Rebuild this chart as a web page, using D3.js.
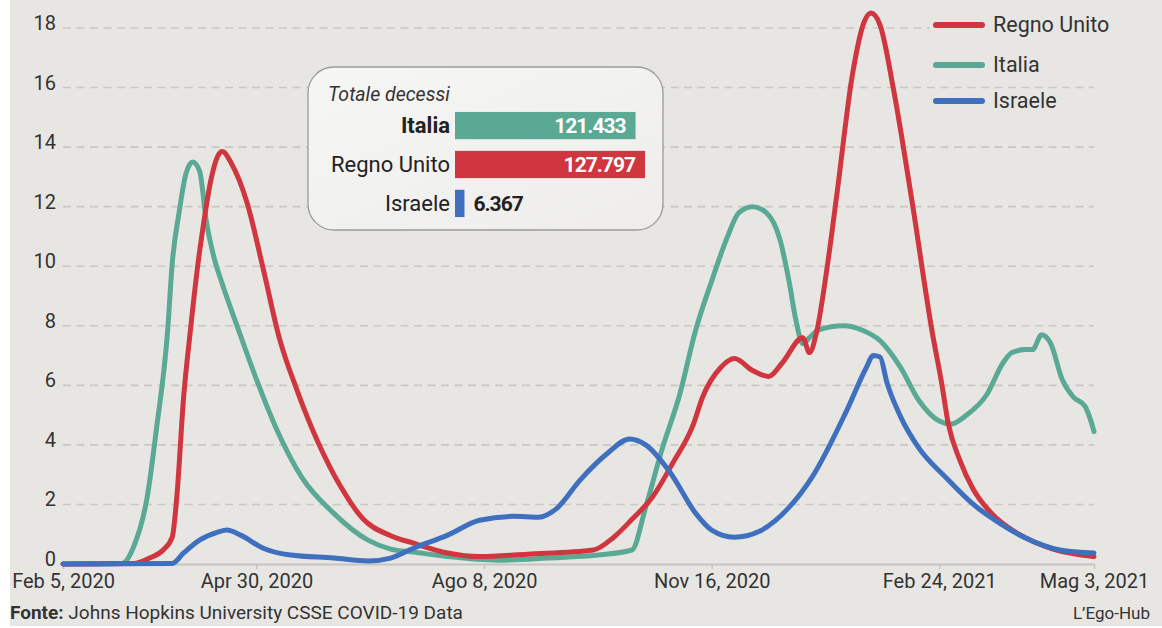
<!DOCTYPE html>
<html><head><meta charset="utf-8">
<script src="https://cdn.jsdelivr.net/npm/d3@7"></script>
<style>
html,body{margin:0;padding:0;background:#fff;}
svg{display:block;font-family:Roboto,"Noto Sans",sans-serif;}
</style></head><body>
<svg id="chart" width="1162" height="628"></svg>
<script>
// ---- DATA ----
const seriesNames = ["Regno Unito", "Italia", "Israele"];
const seriesColors = ["#d0363f", "#5aa995", "#3f6fbf"];

const regnoUnito = [
  ["2020-02-05",0],["2020-03-07",0.02],["2020-03-14",0.2],["2020-03-20",0.47],["2020-03-24",0.9],
  ["2020-03-26",2.25],["2020-03-29",5.6],["2020-04-01",7.86],["2020-04-04",9.9],["2020-04-07",11.55],
  ["2020-04-10",12.9],["2020-04-13",13.7],["2020-04-15",13.85],["2020-04-19",13.45],["2020-04-26",12.1],
  ["2020-05-03",9.9],["2020-05-10",7.6],["2020-05-18",5.8],["2020-05-27",4.1],["2020-06-06",2.6],
  ["2020-06-16",1.5],["2020-06-28",0.95],["2020-07-08",0.7],["2020-07-23",0.37],["2020-08-06",0.25],
  ["2020-08-27",0.33],["2020-09-25",0.47],["2020-10-04",0.9],["2020-10-12",1.5],["2020-10-21",2.25],
  ["2020-10-30",3.4],["2020-11-08",4.7],["2020-11-12",5.6],["2020-11-20",6.6],["2020-11-26",6.9],
  ["2020-12-04",6.5],["2020-12-11",6.3],["2020-12-17",6.75],["2020-12-26",7.6],["2020-12-29",7.1],
  ["2021-01-01",7.75],["2021-01-06",10.1],["2021-01-10",12.4],["2021-01-17",16.5],["2021-01-22",18.2],
  ["2021-01-25",18.5],["2021-01-29",18.1],["2021-02-04",15.9],["2021-02-12",12.2],["2021-02-21",7.75],
  ["2021-02-25",6.1],["2021-02-28",4.7],["2021-03-05",3.5],["2021-03-11",2.5],["2021-03-19",1.7],
  ["2021-03-31",1.0],["2021-04-15",0.5],["2021-05-03",0.25]
];

const italia = [
  ["2020-02-05",0],["2020-03-02",0.02],["2020-03-07",0.57],["2020-03-13",2.25],["2020-03-17",4.5],
  ["2020-03-22",7.86],["2020-03-24",10.1],["2020-03-27",11.8],["2020-03-30",13.1],["2020-04-02",13.5],
  ["2020-04-05",13.2],["2020-04-08",11.5],["2020-04-11",10.4],["2020-04-15",9.4],["2020-04-21",8.1],
  ["2020-04-30",6.2],["2020-05-09",4.5],["2020-05-20",2.9],["2020-06-03",1.7],["2020-06-18",0.8],
  ["2020-06-28",0.5],["2020-07-08",0.4],["2020-07-23",0.25],["2020-08-14",0.13],["2020-09-05",0.2],
  ["2020-09-27",0.3],["2020-10-12",0.47],["2020-10-18",1.9],["2020-10-25",3.8],["2020-11-02",5.7],
  ["2020-11-09",7.86],["2020-11-16",9.5],["2020-11-23",11.0],["2020-11-28",11.8],["2020-12-04",12.0],
  ["2020-12-10",11.8],["2020-12-16",10.9],["2020-12-20",9.5],["2020-12-23",8.2],["2020-12-26",7.4],
  ["2020-12-29",7.6],["2021-01-02",7.86],["2021-01-13",8.0],["2021-01-21",7.86],["2021-01-29",7.5],
  ["2021-02-07",6.6],["2021-02-15",5.5],["2021-02-24",4.8],["2021-03-01",4.7],["2021-03-08",5.0],
  ["2021-03-17",5.7],["2021-03-24",6.75],["2021-03-28",7.1],["2021-04-03",7.2],["2021-04-06",7.2],
  ["2021-04-10",7.7],["2021-04-14",7.4],["2021-04-19",6.2],["2021-04-24",5.6],["2021-04-29",5.3],
  ["2021-05-01",4.95],["2021-05-03",4.45]
];

const israele = [
  ["2020-02-05",0],["2020-03-24",0.02],["2020-03-29",0.37],["2020-04-05",0.8],["2020-04-13",1.07],
  ["2020-04-17",1.14],["2020-04-23",0.97],["2020-05-03",0.53],["2020-05-15",0.3],["2020-06-03",0.2],
  ["2020-06-18",0.1],["2020-06-28",0.2],["2020-07-08",0.53],["2020-07-23",0.97],["2020-08-06",1.47],
  ["2020-08-21",1.6],["2020-09-01",1.57],["2020-09-09",1.87],["2020-09-19",2.8],["2020-10-01",3.7],
  ["2020-10-11",4.2],["2020-10-18",4.0],["2020-10-29",3.05],["2020-11-09",1.7],["2020-11-16",1.14],
  ["2020-11-26",0.9],["2020-12-07",1.1],["2020-12-20",1.9],["2020-12-30",2.9],["2021-01-14",5.1],
  ["2021-01-23",6.6],["2021-01-26",7.0],["2021-01-29",6.95],["2021-02-01",6.1],["2021-02-07",4.95],
  ["2021-02-15",3.9],["2021-02-27",2.9],["2021-03-11",2.0],["2021-03-23",1.35],["2021-04-03",0.87],
  ["2021-04-18",0.47],["2021-05-03",0.37]
];

const xTickDates = ["2020-02-05","2020-04-30","2020-08-08","2020-11-16","2021-02-24","2021-05-03"];
const xTickLabels = ["Feb 5, 2020","Apr 30, 2020","Ago 8, 2020","Nov 16, 2020","Feb 24, 2021","Mag 3, 2021"];
const yTicks = [0,2,4,6,8,10,12,14,16,18];

const totalNames = ["Italia","Regno Unito","Israele"];
const totalValues = [121433, 127797, 6367];
const totalColors = ["#5aa995","#d0363f","#3f6fbf"];

// ---- CHART ----
const W = 1162, H = 628;
const svg = d3.select("#chart");
const parse = d3.timeParse("%Y-%m-%d");
const itFmt = d3.formatLocale({decimal:",", thousands:".", grouping:[3], currency:["€",""]}).format(",d");

svg.append("rect").attr("x",10).attr("y",0).attr("width",W-10).attr("height",626).attr("fill","#e8e6e2");

const x = d3.scaleTime()
  .domain([parse(xTickDates[0]), parse(xTickDates[xTickDates.length-1])])
  .range([63, 1094]);
const y = d3.scaleLinear().domain([0,18]).range([564, 28]);

// gridlines
const grid = svg.append("g");
grid.selectAll("line").data(yTicks.filter(d => d > 0)).join("line")
  .attr("x1", 63).attr("x2", d => d === 18 ? 930 : 1094)
  .attr("y1", d => y(d)).attr("y2", d => y(d))
  .attr("stroke","#c9c7c3").attr("stroke-width",1.6).attr("stroke-dasharray","8,5.5");

// y labels
svg.append("g").selectAll("text").data(yTicks).join("text")
  .attr("x", 56).attr("y", d => y(d) + 2)
  .attr("text-anchor","end").attr("font-size",20).attr("fill","#333")
  .text(d => d);

// x axis
const xAxis = d3.axisBottom(x)
  .tickValues(xTickDates.map(parse))
  .tickFormat((d,i) => xTickLabels[i])
  .tickSize(5).tickSizeOuter(0).tickPadding(5);
const gx = svg.append("g").attr("transform",`translate(0,${y(0)})`).call(xAxis);
gx.select(".domain").attr("stroke","#c6c4c0").attr("stroke-width",2);
gx.selectAll(".tick line").attr("stroke","#c6c4c0").attr("stroke-width",1.5);
gx.selectAll(".tick text").attr("font-size",20).attr("fill","#333")
  .attr("font-family","Roboto,'Noto Sans',sans-serif").attr("dy","0.72em");

// lines
const line = d3.line().x(d => x(parse(d[0]))).y(d => y(d[1])).curve(d3.curveMonotoneX);
const seriesData = [regnoUnito, italia, israele];
const drawOrder = [1, 0, 2];
drawOrder.forEach(i => {
  svg.append("path").datum(seriesData[i])
    .attr("d", line).attr("fill","none")
    .attr("stroke", seriesColors[i]).attr("stroke-width",5)
    .attr("stroke-linejoin","round").attr("stroke-linecap","round");
});

// legend
const leg = svg.append("g");
seriesNames.forEach((n,i) => {
  const ly = [25, 65, 101][i];
  leg.append("line").attr("x1",936).attr("x2",982).attr("y1",ly).attr("y2",ly)
    .attr("stroke",seriesColors[i]).attr("stroke-width",6).attr("stroke-linecap","round");
  leg.append("text").attr("x",993).attr("y",ly+7).attr("font-size",21.5).attr("fill","#333").text(n);
});

// inset box
const box = svg.append("g");
const grad = svg.append("defs").append("linearGradient").attr("id","bg").attr("x1",0).attr("y1",0).attr("x2",1).attr("y2",1);
grad.append("stop").attr("offset","0%").attr("stop-color","#f6f6f5");
grad.append("stop").attr("offset","100%").attr("stop-color","#eeedeb");
box.append("rect").attr("x",308).attr("y",67).attr("width",355).attr("height",163).attr("rx",26)
  .attr("fill","url(#bg)").attr("stroke","#9b9b9b").attr("stroke-width",1.3);
box.append("text").attr("x",328).attr("y",101).attr("font-size",19.5).attr("font-style","italic")
  .attr("fill","#333").text("Totale decessi");

const bx = d3.scaleLinear().domain([0, d3.max(totalValues)]).range([0, 190]);
const by = d3.scaleBand().domain(totalNames).range([110, 219]).paddingInner(0.3).paddingOuter(0.05);
totalNames.forEach((n,i) => {
  const yy = by(n), bh = by.bandwidth();
  box.append("rect").attr("x",455).attr("y",yy).attr("width",Math.max(bx(totalValues[i]),8)).attr("height",bh)
    .attr("fill",totalColors[i]);
  box.append("text").attr("x",450).attr("y",yy+bh/2+7.5).attr("text-anchor","end")
    .attr("font-size",22).attr("font-weight", i===0 ? 700 : 400).attr("fill","#222").text(n);
  const inside = bx(totalValues[i]) > 60;
  box.append("text")
    .attr("x", inside ? 455 + bx(totalValues[i]) - 10 : 455 + Math.max(bx(totalValues[i]),8) + 9)
    .attr("y", yy+bh/2+7.5).attr("text-anchor", inside ? "end" : "start")
    .attr("font-size",21).attr("font-weight",700).attr("letter-spacing","-1")
    .attr("fill", inside ? "#fff" : "#222").text(itFmt(totalValues[i]));
});

// footer
const ft = svg.append("text").attr("x",10).attr("y",619).attr("font-size",19).attr("fill","#333");
ft.append("tspan").attr("font-weight",700).text("Fonte:");
ft.append("tspan").text(" Johns Hopkins University CSSE COVID-19 Data");
svg.append("text").attr("x",1150).attr("y",619).attr("text-anchor","end").attr("font-size",17)
  .attr("fill","#333").text("L’Ego-Hub");
</script>
</body></html>
